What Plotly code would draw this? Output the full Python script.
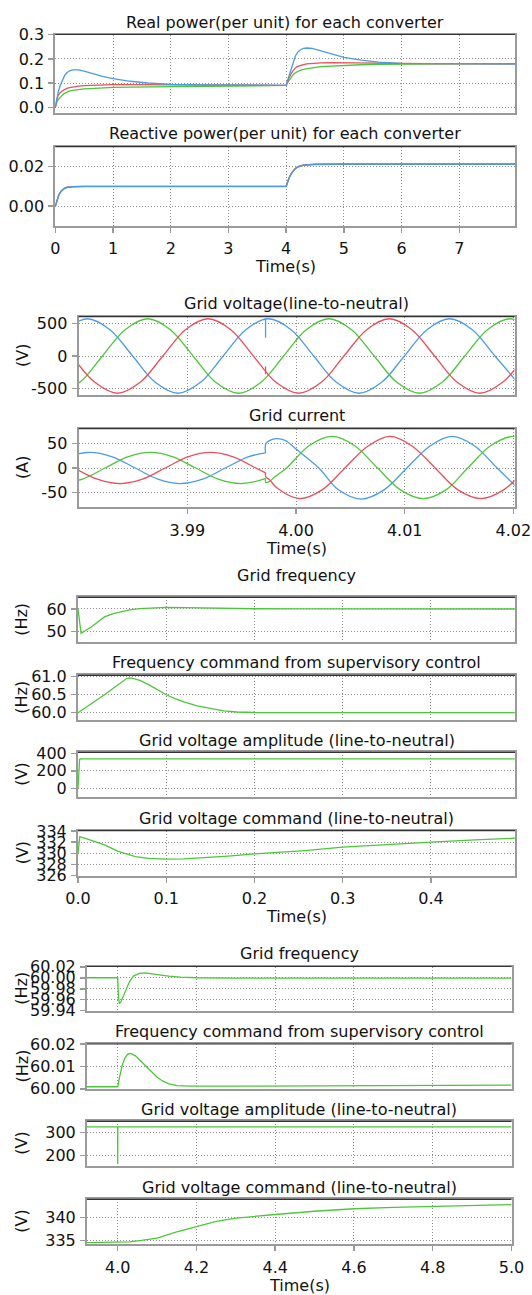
import plotly.graph_objects as go

# ---------------- data ----------------
# Group 1: real / reactive power per converter, 0..8 s
P_T = [0, 0.02, 0.05, 0.08, 0.12, 0.16, 0.2, 0.25, 0.3, 0.35, 0.4, 0.5, 0.6, 0.8, 1.0, 1.3, 1.6,
       2.0, 2.5, 3.0, 3.5, 4.0, 4.02, 4.05, 4.08, 4.12, 4.16, 4.2, 4.25, 4.3, 4.36, 4.45, 4.6, 4.8,
       5.0, 5.3, 5.6, 6.0, 6.5, 7.0, 7.965]
P_BLUE = [0.0, 0.03, 0.063, 0.088, 0.112, 0.131, 0.143, 0.151, 0.155, 0.156, 0.155, 0.15, 0.143,
          0.129, 0.119, 0.108, 0.101, 0.095, 0.093, 0.092, 0.091, 0.091, 0.108, 0.13, 0.153, 0.185,
          0.212, 0.228, 0.238, 0.243, 0.245, 0.243, 0.233, 0.218, 0.206, 0.195, 0.187, 0.182,
          0.181, 0.18, 0.18]
P_RED = [0.0, 0.028, 0.05, 0.06, 0.068, 0.074, 0.079, 0.082, 0.085, 0.087, 0.088, 0.09, 0.091,
         0.093, 0.094, 0.094, 0.094, 0.093, 0.092, 0.092, 0.091, 0.091, 0.105, 0.122, 0.137, 0.152,
         0.163, 0.169, 0.174, 0.177, 0.18, 0.182, 0.184, 0.185, 0.185, 0.185, 0.184, 0.182, 0.181,
         0.18, 0.18]
P_GREEN = [0.0, 0.018, 0.033, 0.042, 0.051, 0.058, 0.063, 0.068, 0.071, 0.073, 0.075, 0.077, 0.078,
           0.081, 0.083, 0.084, 0.085, 0.086, 0.088, 0.089, 0.09, 0.091, 0.1, 0.11, 0.122, 0.135,
           0.143, 0.149, 0.154, 0.157, 0.16, 0.163, 0.168, 0.171, 0.174, 0.176, 0.178, 0.179, 0.18,
           0.18, 0.18]

Q_T = [0, 0.03, 0.06, 0.1, 0.15, 0.2, 0.3, 0.5, 4.0, 4.03, 4.06, 4.1, 4.15, 4.2, 4.3, 4.5, 5.0, 7.965]
Q_BLUE = [0, 0.003, 0.0055, 0.0075, 0.0088, 0.0094, 0.0098, 0.0099, 0.0099, 0.0125, 0.0148,
          0.0168, 0.0186, 0.0197, 0.0206, 0.021, 0.0211, 0.0211]
Q_RED = [0, 0.003, 0.0056, 0.0076, 0.0089, 0.0095, 0.0098, 0.0099, 0.0099, 0.0126, 0.0149,
         0.0169, 0.0187, 0.0198, 0.0207, 0.0211, 0.0212, 0.0212]
Q_GREEN = [0, 0.0029, 0.0054, 0.0074, 0.0087, 0.0093, 0.0097, 0.0098, 0.0098, 0.0124, 0.0147,
           0.0167, 0.0185, 0.0196, 0.0205, 0.0209, 0.021, 0.021]

# Group 2: grid voltage and current around the 4 s step
VB_T = [3.97872, 3.9808, 3.98288, 3.98497, 3.98705, 3.98913, 3.99122, 3.9933, 3.99538, 3.99747,
        3.99955, 4.00163, 4.00372, 4.0058, 4.00788, 4.00997, 4.01205, 4.01413, 4.01622, 4.0183, 4.02038]
VB = [403, 570, 403, 0, -403, -570, -403, 0, 403, 570, 403, 0, -403, -570, -403, 0, 403, 570, 403, 0, -403]
VG_T = [3.97803, 3.98011, 3.98219, 3.98428, 3.98636, 3.98844, 3.99053, 3.99261, 3.99469, 3.99678,
        3.99886, 4.00094, 4.00303, 4.00511, 4.00719, 4.00928, 4.01136, 4.01344, 4.01553, 4.01761,
        4.01969, 4.02178]
VG = [-570, -403, 0, 403, 570, 403, 0, -403, -570, -403, 0, 403, 570, 403, 0, -403, -570, -403, 0,
      403, 570, 403]
VR_T = [3.97941, 3.9815, 3.98358, 3.98566, 3.98775, 3.98983, 3.99191, 3.994, 3.99608, 3.99816,
        4.00025, 4.00233, 4.00441, 4.0065, 4.00858, 4.01066, 4.01275, 4.01483, 4.01691, 4.019, 4.02108]
VR = [0, -403, -570, -403, 0, 403, 570, 403, 0, -403, -570, -403, 0, 403, 570, 403, 0, -403, -570, -403, 0]
SPIKE_T = [3.9972, 3.9972]
SPIKE_BLUE = [570, 280]
SPIKE_RED = [-280, -160]

CB1_T = [3.9789, 3.981, 3.9831, 3.9852, 3.9873, 3.9893, 3.9914, 3.9935, 3.9956, 3.9972]
CB1 = [23, 32, 23, 0, -23, -32, -23, 0, 23, 31]
CB2_T = [3.9972, 3.99722, 3.9976, 3.9982, 3.999, 4.0, 4.0021, 4.0039, 4.006, 4.0081, 4.0102,
         4.0123, 4.0143, 4.0164, 4.0185, 4.0206]
CB2 = [31, 50, 57, 60.5, 57, 39, 0, -45, -64, -45, 0, 45, 65, 46, 0, -46]
CG1_T = [3.97827, 3.98035, 3.98243, 3.98452, 3.9866, 3.98868, 3.99077, 3.99285, 3.99493, 3.99702, 3.9972]
CG1 = [-32, -23, 0, 23, 32, 23, 0, -23, -32, -23, -21]
CG2_T = [3.9972, 3.99722, 3.9976, 3.998, 3.99913, 4.0012, 4.0033, 4.0054, 4.0075, 4.0096, 4.0117,
         4.0138, 4.0158, 4.0179, 4.02, 4.0221]
CG2 = [-21, -30, -27, -19, 0, 46, 65, 46, 0, -45, -63, -45, 0, 46, 65, 46]
CR1_T = [3.97963, 3.98172, 3.9838, 3.98588, 3.98797, 3.99005, 3.99213, 3.99422, 3.9963, 3.9972]
CR1 = [0, -23, -32, -23, 0, 23, 32, 23, 0, -10]
CR2_T = [3.9972, 3.99722, 3.9976, 3.9982, 4.00033, 4.0024, 4.0045, 4.0066, 4.00866, 4.0107,
         4.0128, 4.0149, 4.017, 4.0191, 4.0212]
CR2 = [-10, -18, -25, -40, -63, -45, 0, 45, 65, 45, 0, -45, -63, -45, 0]

# Group 3: start-up, 0..0.5 s
F1_T = [0, 0.0035, 0.008, 0.015, 0.022, 0.03, 0.04, 0.05, 0.06, 0.07, 0.085, 0.1, 0.12, 0.14,
        0.16, 0.18, 0.2, 0.25, 0.3, 0.4, 0.495]
F1 = [60.0, 49.3, 50.4, 52.1, 54.2, 56.5, 58.0, 59.0, 59.7, 60.15, 60.5, 60.7, 60.6, 60.45,
      60.3, 60.18, 60.1, 60.02, 60.0, 60.0, 60.0]
F2_T = [0, 0.01, 0.02, 0.03, 0.04, 0.05, 0.055, 0.06, 0.07, 0.08, 0.09, 0.1, 0.11, 0.12, 0.135,
        0.15, 0.165, 0.18, 0.2, 0.25, 0.3, 0.495]
F2 = [60.0, 60.16, 60.33, 60.5, 60.68, 60.87, 60.95, 60.97, 60.9, 60.78, 60.64, 60.5, 60.39,
      60.3, 60.19, 60.11, 60.05, 60.02, 60.005, 60.0, 60.0, 60.0]
F3_T = [0, 0.0005, 0.001, 0.0018, 0.003, 0.495]
F3 = [0, 120, 250, 330, 336, 336]
F4_T = [0, 0.002, 0.01, 0.02, 0.03, 0.045, 0.065, 0.08, 0.1, 0.12, 0.142, 0.17, 0.2, 0.23,
        0.257, 0.3, 0.35, 0.4, 0.45, 0.495]
F4 = [330.0, 333.0, 332.6, 332.1, 331.5, 330.4, 329.4, 329.1, 328.95, 329.0, 329.2, 329.5,
      329.9, 330.2, 330.5, 331.1, 331.6, 332.0, 332.4, 332.7]

# Group 4: load step, 3.92..5 s
G1_T = [3.922, 4.0, 4.0015, 4.004, 4.008, 4.013, 4.02, 4.03, 4.04, 4.055, 4.07, 4.09, 4.11, 4.13,
        4.16, 4.2, 4.3, 5.0]
G1 = [60.0, 60.0, 59.97, 59.953, 59.956, 59.965, 59.978, 59.993, 60.003, 60.008, 60.009,
      60.0075, 60.005, 60.003, 60.001, 60.0, 59.9995, 59.9995]
G2_T = [3.922, 4.0, 4.005, 4.011, 4.018, 4.025, 4.033, 4.045, 4.063, 4.08, 4.1, 4.115, 4.13,
        4.15, 4.183, 4.3, 4.6, 5.0]
G2 = [60.0009, 60.0009, 60.0055, 60.0102, 60.0138, 60.0155, 60.0159, 60.0148, 60.0117, 60.0085,
      60.0052, 60.0034, 60.0022, 60.0014, 60.0012, 60.0012, 60.0014, 60.0016]
G3_T = [3.922, 3.9998, 4.0, 4.0003, 5.0]
G3 = [324, 324, 163, 324, 324]
G4_T = [3.922, 4.0, 4.03, 4.06, 4.1, 4.15, 4.2, 4.25, 4.3, 4.35, 4.4, 4.5, 4.6, 4.7, 4.8, 4.9, 5.0]
G4 = [334.57, 334.6, 334.75, 335.05, 335.55, 336.9, 338.1, 339.2, 339.9, 340.35, 340.7, 341.4,
      341.95, 342.25, 342.5, 342.7, 342.85]

# tick values / labels
X1_TICKS = [0, 1, 2, 3, 4, 5, 6, 7]
X1_LABELS = ["0", "1", "2", "3", "4", "5", "6", "7"]
X2_TICKS = [3.99, 4.0, 4.01, 4.02]
X2_LABELS = ["3.99", "4.00", "4.01", "4.02"]
X3_TICKS = [0.0, 0.1, 0.2, 0.3, 0.4]
X3_LABELS = ["0.0", "0.1", "0.2", "0.3", "0.4"]
X4_TICKS = [4.0, 4.2, 4.4, 4.6, 4.8, 5.0]
X4_LABELS = ["4.0", "4.2", "4.4", "4.6", "4.8", "5.0"]

Y_TICKS = [
    ([0.0, 0.1, 0.2, 0.3], ["0.0", "0.1", "0.2", "0.3"]),
    ([0.0, 0.02], ["0.00", "0.02"]),
    ([-500, 0, 500], ["-500", "0", "500"]),
    ([-50, 0, 50], ["-50", "0", "50"]),
    ([50, 60], ["50", "60"]),
    ([60.0, 60.5, 61.0], ["60.0", "60.5", "61.0"]),
    ([0, 200, 400], ["0", "200", "400"]),
    ([326, 328, 330, 332, 334], ["326", "328", "330", "332", "334"]),
    ([59.94, 59.96, 59.98, 60.0, 60.02], ["59.94", "59.96", "59.98", "60.00", "60.02"]),
    ([60.0, 60.01, 60.02], ["60.00", "60.01", "60.02"]),
    ([200, 300], ["200", "300"]),
    ([335, 340], ["335", "340"]),
]

TITLES = ["Real power(per unit) for each converter", "Reactive power(per unit) for each converter",
          "Grid voltage(line-to-neutral)", "Grid current",
          "Grid frequency", "Frequency command from supervisory control",
          "Grid voltage amplitude (line-to-neutral)", "Grid voltage command (line-to-neutral)",
          "Grid frequency", "Frequency command from supervisory control",
          "Grid voltage amplitude (line-to-neutral)", "Grid voltage command (line-to-neutral)"]
Y_TITLES = [None, None, "(V)", "(A)", "(Hz)", "(Hz)", "(V)", "(V)", "(Hz)", "(Hz)", "(V)", "(V)"]

# ---------------- layout geometry (pixels) ----------------
W, H = 532, 1295
BLUE, RED, GREEN = "#4C9BE6", "#E8505C", "#4DC63B"
FONT = "DejaVu Sans"
AXC = "#9a9a9a"
GRIDC = "#8c8c8c"
GRIDDASH = "1px,2px"

GROUPS = [  # x0, x1, x range, ticks, labels, time-label y
    (55.3, 515.0, [0, 7.965], X1_TICKS, X1_LABELS, 266),
    (78.6, 514.5, [3.98, 4.0201], X2_TICKS, X2_LABELS, 548),
    (78.0, 515.0, [0, 0.4952], X3_TICKS, X3_LABELS, 916),
    (87.0, 511.5, [3.922, 5.0], X4_TICKS, X4_LABELS, 1285),
]
# panel: group index, y top, y bottom, y range, is bottom panel of group
PANELS = [
    (0, 34.5, 113.3, [-0.0238, 0.3005], False),
    (0, 146.7, 226.0, [-0.0099, 0.0298], True),
    (1, 316.7, 395.3, [-601, 601], False),
    (1, 428.7, 507.3, [-81, 81], True),
    (2, 597.3, 642.3, [45.33, 65.15], False),
    (2, 675.3, 720.0, [59.797, 61.04], False),
    (2, 752.3, 797.3, [-103, 411], False),
    (2, 830.7, 876.0, [325.95, 334.05], True),
    (3, 966.5, 1011.0, [59.9395, 60.0205], False),
    (3, 1044.0, 1089.0, [59.9999, 60.0201], False),
    (3, 1121.3, 1166.3, [152, 348], False),
    (3, 1199.3, 1244.3, [334.22, 344.0], True),
]
TITLE_Y = [22, 133, 303, 415, 575, 662, 741, 818, 953, 1031, 1109, 1187]

fig = go.Figure()
layout = dict(width=W, height=H, margin=dict(l=0, r=0, t=0, b=0, autoexpand=False),
              paper_bgcolor="white", plot_bgcolor="white", showlegend=False,
              font=dict(family=FONT, size=16, color="#111"))
annotations = []
shapes = []

for i, (g, yt, yb, yr, bottom) in enumerate(PANELS, start=1):
    x0, x1, xr, xt, xl, tly = GROUPS[g]
    sx = "" if i == 1 else str(i)
    layout["xaxis" + sx] = dict(
        domain=[x0 / W, x1 / W], range=xr, anchor="y" + sx, automargin=False,
        tickmode="array", tickvals=xt, ticktext=xl, showticklabels=bottom,
        ticks="outside" if bottom else "", ticklen=5, tickcolor=AXC, tickwidth=1.5,
        ticklabelstandoff=2,
        showgrid=True, gridcolor=GRIDC, griddash=GRIDDASH, gridwidth=1,
        showline=True, linecolor=AXC, linewidth=2, mirror=True, zeroline=False,
        tickfont=dict(family=FONT, size=16, color="#111"))
    yv, yl = Y_TICKS[i - 1]
    layout["yaxis" + sx] = dict(
        domain=[1 - yb / H, 1 - yt / H], range=yr, anchor="x" + sx, automargin=False,
        tickmode="array", tickvals=yv, ticktext=yl,
        ticks="outside", ticklen=5, tickcolor=AXC, tickwidth=1.5,
        ticklabelstandoff=1,
        showgrid=True, gridcolor=GRIDC, griddash=GRIDDASH, gridwidth=1,
        showline=True, linecolor=AXC, linewidth=2, mirror=True, zeroline=False,
        tickfont=dict(family=FONT, size=16, color="#111"))
    # dark top border
    shapes.append(dict(type="line", xref=("x" + sx + " domain"), yref=("y" + sx + " domain"),
                       x0=0, x1=1, y0=1, y1=1, line=dict(color="#333", width=1.2)))
    annotations.append(dict(text=TITLES[i - 1], x=(x0 + x1) / 2 / W, y=1 - TITLE_Y[i - 1] / H,
                            xref="paper", yref="paper", showarrow=False,
                            xanchor="center", yanchor="middle",
                            font=dict(family=FONT, size=16, color="#111")))
    if Y_TITLES[i - 1]:
        annotations.append(dict(text=Y_TITLES[i - 1], x=22 / W, y=1 - (yt + yb) / 2 / H,
                                xref="paper", yref="paper", showarrow=False, textangle=-90,
                                xanchor="center", yanchor="middle",
                                font=dict(family=FONT, size=16, color="#111")))
    if bottom:
        annotations.append(dict(text="Time(s)", x=(x0 + x1) / 2 / W, y=1 - tly / H,
                                xref="paper", yref="paper", showarrow=False,
                                xanchor="center", yanchor="middle",
                                font=dict(family=FONT, size=16, color="#111")))


def add(x, y, color, i, shape="linear", width=1.3):
    sx = "" if i == 1 else str(i)
    fig.add_trace(go.Scatter(x=x, y=y, mode="lines", xaxis="x" + sx, yaxis="y" + sx,
                             line=dict(color=color, width=width, shape=shape),
                             hoverinfo="skip"))


# panel 1, 2
add(P_T, P_GREEN, GREEN, 1)
add(P_T, P_RED, RED, 1)
add(P_T, P_BLUE, BLUE, 1)
add(Q_T, Q_GREEN, GREEN, 2)
add(Q_T, Q_RED, RED, 2)
add(Q_T, Q_BLUE, BLUE, 2)
# panel 3: voltage
add(VB_T, VB, BLUE, 3, "spline")
add(VG_T, VG, GREEN, 3, "spline")
add(VR_T, VR, RED, 3, "spline")
add(SPIKE_T, SPIKE_BLUE, BLUE, 3)
add(SPIKE_T, SPIKE_RED, RED, 3)
# panel 4: current
add(CB1_T, CB1, BLUE, 4, "spline")
add(CB2_T, CB2, BLUE, 4, "spline")
add(CG1_T, CG1, GREEN, 4, "spline")
add(CG2_T, CG2, GREEN, 4, "spline")
add(CR1_T, CR1, RED, 4, "spline")
add(CR2_T, CR2, RED, 4, "spline")
# group 3
add(F1_T, F1, GREEN, 5)
add(F2_T, F2, GREEN, 6)
add(F3_T, F3, GREEN, 7)
add(F4_T, F4, GREEN, 8)
# group 4
add(G1_T, G1, GREEN, 9)
add(G2_T, G2, GREEN, 10)
add(G3_T, G3, GREEN, 11)
add(G4_T, G4, GREEN, 12)

layout["annotations"] = annotations
layout["shapes"] = shapes
fig.update_layout(**layout)
fig.write_html("out.html", config={"displayModeBar": False, "staticPlot": True},
               post_script="document.body.style.margin='0px';document.body.style.overflow='hidden';")
